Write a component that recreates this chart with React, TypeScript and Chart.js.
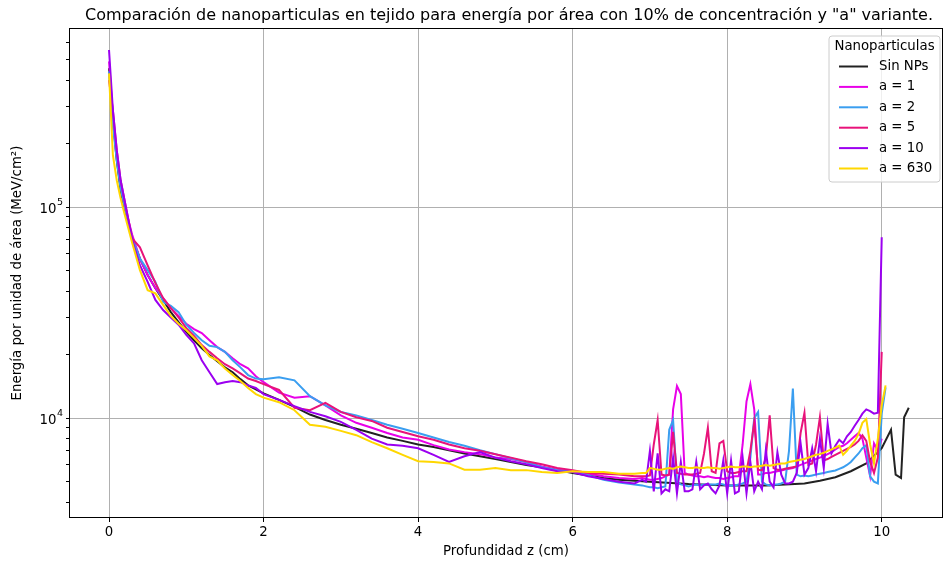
import React, { useEffect, useRef } from 'react';
import { Chart, registerables } from 'chart.js';

Chart.register(...registerables);

// ---------- DATA ----------
const depth = [
  0, 0.05, 0.1, 0.15, 0.2, 0.3, 0.4, 0.5,
  0.6, 0.7, 0.8, 0.9, 1.0, 1.1, 1.2, 1.3,
  1.4, 1.5, 1.6, 1.7, 1.8, 1.9, 2.0, 2.2,
  2.4, 2.6, 2.8, 3.0, 3.2, 3.4, 3.6, 3.8,
  4.0, 4.2, 4.4, 4.6, 4.8, 5.0, 5.2, 5.4,
  5.6, 5.8, 6.0, 6.2, 6.4, 6.6, 6.8,
  6.9, 6.95, 7.0, 7.05, 7.1, 7.15, 7.2, 7.25,
  7.3, 7.35, 7.4, 7.45, 7.5, 7.55, 7.6, 7.65,
  7.7, 7.75, 7.8, 7.85, 7.9, 7.95, 8.0, 8.05,
  8.1, 8.15, 8.2, 8.25, 8.3, 8.35, 8.4, 8.45,
  8.5, 8.55, 8.6, 8.65, 8.7, 8.75, 8.8, 8.85,
  8.9, 8.95, 9.0, 9.05, 9.1, 9.15, 9.2, 9.25,
  9.3, 9.35, 9.4, 9.45, 9.5, 9.55, 9.6, 9.65,
  9.7, 9.75, 9.8, 9.85, 9.9, 9.95, 10.0, 10.05,
];

const depthSinNPs = [
  0, 0.05, 0.1, 0.15, 0.2, 0.3, 0.4, 0.5,
  0.6, 0.7, 0.8, 0.9, 1.0, 1.1, 1.2, 1.3,
  1.4, 1.5, 1.6, 1.7, 1.8, 1.9, 2.0, 2.2,
  2.4, 2.6, 2.8, 3.0, 3.2, 3.4, 3.6, 3.8,
  4.0, 4.2, 4.4, 4.6, 4.8, 5.0, 5.2, 5.4,
  5.6, 5.8, 6.0, 6.2, 6.4, 6.6, 6.8,
  7.0, 7.5, 8.0, 8.5, 9.0, 9.2, 9.4, 9.6,
  9.8, 10.0, 10.12, 10.18, 10.25, 10.29, 10.35,
];

const sinNPs = [
  455000, 258000, 167000, 120000, 98000, 71000, 57000, 47700,
  41300, 36300, 31800, 28500, 25600, 23400, 21400, 19900,
  18600, 17400, 16500, 15300, 14300, 13700, 13100, 12200,
  11300, 10400, 9800, 9300, 8900, 8500, 8100, 7800,
  7500, 7300, 7050, 6800, 6600, 6400, 6200, 6000,
  5850, 5670, 5500, 5350, 5200, 5100, 5050,
  5000, 4870, 4800, 4800, 4900, 5050, 5250, 5600,
  6100, 7200, 8800, 5400, 5200, 10100, 11200,
];

const a1 = [
  490000, 273000, 176000, 127000, 102000, 74000, 57000, 47700,
  41300, 37000, 33200, 30500, 28000, 26400, 25300, 23400,
  21700, 20600, 19200, 18000, 17200, 15800, 14800, 13200,
  12500, 12700, 11500, 10300, 9500, 9000, 8500, 8100,
  7900, 7450, 7100, 6900, 6750, 6500, 6400, 6200,
  5900, 5700, 5600, 5450, 5300, 5200, 5150,
  5200, 5150, 5100, 5100, 5150, 5200, 5300, 5400,
  11000, 14200, 13000, 5500, 5400, 5350, 5300, 5300,
  5250, 5300, 5250, 5200, 5200, 5150, 5200, 5250,
  5300, 5300, 7500, 12000, 14500, 11000, 5400, 5400,
  5500, 5500, 5550, 5600, 5650, 5700, 5750, 5800,
  5900, 6000, 6100, 6200, 6300, 6400, 6500, 6600,
  6750, 6900, 7100, 7300, 7400, 7600, 7900, 8200,
  8500, 8000, 6500, 5300, 7600, 7000, 8000, null,
];

const a2 = [
  440000, 245000, 167000, 123000, 102000, 71000, 57000, 50300,
  44200, 35500, 34000, 31800, 27700, 25300, 23400, 22000,
  21700, 20600, 18800, 17400, 16000, 15400, 15300, 15600,
  15100, 12700, 11500, 10700, 10300, 9800, 9300, 8900,
  8500, 8100, 7700, 7400, 7050, 6750, 6450, 6200,
  5850, 5670, 5550, 5370, 5100, 4950, 4850,
  4800, 4750, 4700, 4700, 4650, 4700, 4750, 8800,
  9800, 5000, 4850, 4800, 4750, 4800, 4850, 4800,
  4850, 4850, 4850, 4850, 4900, 4850, 4800, 4800,
  4800, 4850, 4900, 5000, 6500, 10000, 10700, 5000,
  4850, 4800, 4850, 4850, 4900, 5000, 7000, 13800,
  5400, 5300, 5350, 5300, 5350, 5400, 5450, 5500,
  5550, 5600, 5650, 5750, 5850, 6000, 6200, 6500,
  6800, 7200, 7450, 5300, 5000, 4900, 10500, 14000,
];

const a5 = [
  400000, 288000, 186000, 134000, 108000, 71000, 64500, 53000,
  43700, 37000, 33200, 30000, 26700, 24500, 22200, 20600,
  19200, 18000, 17200, 16300, 15400, 15000, 14500, 13600,
  11200, 10900, 11800, 10700, 10100, 9700, 9000, 8600,
  8200, 7900, 7500, 7200, 7000, 6750, 6500, 6250,
  6050, 5800, 5670, 5500, 5450, 5400, 5300,
  5300, 5300, 5350, 7500, 9800, 5400, 5350, 5400,
  8600, 5500, 5450, 5400, 5400, 5400, 5450, 5500,
  6800, 9000, 5600, 5500, 7600, 7800, 5600, 5500,
  5500, 5550, 5600, 5600, 7000, 9600, 5700, 5650,
  6500, 10300, 5800, 5700, 5700, 5750, 5800, 5850,
  5900, 8500, 10600, 6000, 6100, 7500, 10100, 6300,
  6400, 6550, 6700, 6850, 7000, 7150, 7300, 7500,
  7800, 8300, 7800, 6200, 5500, 6500, 20600, null,
];

const a10 = [
  555000, 288000, 186000, 134000, 108000, 69800, 53000, 44200,
  36300, 32500, 30000, 27700, 24800, 22600, 18800, 16500,
  14500, 14800, 15000, 14800, 14300, 13900, 13000, 12200,
  11400, 10700, 10200, 9600, 8800, 8000, 7500, 7400,
  7200, 6700, 6200, 6600, 6900, 6500, 6250, 6050,
  5800, 5600, 5550, 5300, 5150, 5000, 4900,
  5100, 5000, 7000, 4500, 6800, 4400, 4600, 4500,
  6500, 4400, 6200, 4500, 4500, 4600, 6200, 4600,
  4800, 4900, 4600, 4400, 4800, 6300, 4400, 6300,
  4400, 4500, 6500, 4400, 6200, 4500, 5000, 4600,
  7050, 5000, 4700, 6900, 5400, 4900, 4900, 5000,
  5500, 7600, 5400, 5800, 7200, 5600, 8000, 5800,
  9400, 6800, 7400, 7900, 7600, 8200, 8600, 9200,
  9800, 10500, 11000, 10800, 10500, 10600, 72000, null,
];

const a630 = [
  430000, 176000, 134000, 110000, 93000, 67500, 50300, 40400,
  39000, 34400, 30500, 28000, 26100, 24000, 22000, 19600,
  18800, 17200, 16000, 15000, 13900, 13000, 12500, 11900,
  10900, 9300, 9100, 8700, 8300, 7700, 7200, 6700,
  6250, 6200, 6100, 5700, 5700, 5800, 5670, 5670,
  5550, 5500, 5600, 5550, 5550, 5450, 5450,
  5500, 5500, 5800, 5750, 5700, 5700, 5750, 5800,
  5750, 5850, 5900, 5850, 5800, 5800, 5850, 5800,
  5800, 5850, 5800, 5800, 5750, 5800, 5850, 5900,
  5850, 5850, 5900, 5900, 5850, 5900, 5900, 5950,
  6000, 5950, 6000, 6050, 6100, 6100, 6200, 6250,
  6300, 6350, 6400, 6500, 6600, 6700, 6750, 6850,
  7000, 7100, 7250, 7400, 6700, 7000, 7400, 7800,
  8400, 9500, 9900, 7500, 6100, 8000, 11500, 14300,
];

const seriesLabels = ['Sin NPs', 'a = 1', 'a = 2', 'a = 5', 'a = 10', 'a = 630'];
const seriesColors = ['#222222', '#e800e8', '#3a9ef0', '#e8137a', '#9b00f0', '#ffd700'];
const xTicks = [0, 2, 4, 6, 8, 10];
const yTicks = [
  4000, 5000, 6000, 7000, 8000, 9000,
  10000, 20000, 30000, 40000, 50000, 60000, 70000, 80000, 90000,
  100000, 200000, 300000, 400000, 500000, 600000,
];
const yMajorTicks = [10000, 100000];
const yMajorExponents = ['4', '5'];
const titleText =
  'Comparación de nanoparticulas en tejido para energía por área con 10% de concentración y "a" variante.';
const xTitle = 'Profundidad z (cm)';
const yTitle = 'Energía por unidad de área (MeV/cm²)';
const legendTitle = 'Nanoparticulas';

const FONT = "'DejaVu Sans', sans-serif";
const FS = 13.3;

const framePlugin = {
  id: 'frameTitleLegend',
  afterDraw(chart: any) {
    const { ctx, chartArea } = chart;
    const { left, right, top, bottom } = chartArea;
    ctx.save();
    // frame
    ctx.strokeStyle = '#000';
    ctx.lineWidth = 1;
    ctx.strokeRect(Math.round(left) - 0.5, Math.round(top) - 0.5, Math.round(right - left) + 1, Math.round(bottom - top) + 1);
    // title
    ctx.fillStyle = '#000';
    ctx.font = `16px ${FONT}`;
    ctx.textAlign = 'center';
    ctx.textBaseline = 'middle';
    ctx.fillText(titleText, (left + right) / 2 + 3, 16);
    // y major tick labels with superscript exponent
    const ys = chart.scales.y;
    yMajorTicks.forEach((v, i) => {
      const py = ys.getPixelForValue(v);
      const exp = yMajorExponents[i];
      ctx.font = `9.5px ${FONT}`;
      const ew = ctx.measureText(exp).width;
      const xr = left - 7;
      ctx.textAlign = 'left';
      ctx.textBaseline = 'alphabetic';
      ctx.fillText(exp, xr - ew, py - 2);
      ctx.font = `${FS}px ${FONT}`;
      ctx.textAlign = 'right';
      ctx.fillText('10', xr - ew - 0.5, py + 6);
    });
    // legend
    const bx = right - 113;
    const by = top + 7;
    const bw = 111;
    const bh = 146;
    const r = 3;
    ctx.beginPath();
    ctx.moveTo(bx + r, by);
    ctx.lineTo(bx + bw - r, by);
    ctx.quadraticCurveTo(bx + bw, by, bx + bw, by + r);
    ctx.lineTo(bx + bw, by + bh - r);
    ctx.quadraticCurveTo(bx + bw, by + bh, bx + bw - r, by + bh);
    ctx.lineTo(bx + r, by + bh);
    ctx.quadraticCurveTo(bx, by + bh, bx, by + bh - r);
    ctx.lineTo(bx, by + r);
    ctx.quadraticCurveTo(bx, by, bx + r, by);
    ctx.closePath();
    ctx.fillStyle = 'rgba(255,255,255,0.8)';
    ctx.fill();
    ctx.strokeStyle = '#cccccc';
    ctx.lineWidth = 1;
    ctx.stroke();
    ctx.fillStyle = '#000';
    ctx.font = `${FS}px ${FONT}`;
    ctx.textAlign = 'center';
    ctx.textBaseline = 'middle';
    ctx.fillText(legendTitle, bx + bw / 2, by + 11);
    ctx.textAlign = 'left';
    seriesLabels.forEach((lab, i) => {
      const y = by + 30.5 + i * 20.4;
      ctx.strokeStyle = seriesColors[i];
      ctx.lineWidth = 2;
      ctx.beginPath();
      ctx.moveTo(bx + 10, y);
      ctx.lineTo(bx + 39, y);
      ctx.stroke();
      ctx.fillStyle = '#000';
      ctx.fillText(lab, bx + 50, y);
    });
    ctx.restore();
  },
};

const seriesData = [sinNPs, a1, a2, a5, a10, a630];

export default function App() {
  const ref = useRef<HTMLCanvasElement>(null);
  useEffect(() => {
    document.body.style.margin = '0';
    const canvas = ref.current;
    if (!canvas) return;
    const datasets = seriesData.map((vals, i) => {
      const xs = i === 0 ? depthSinNPs : depth;
      return {
        label: seriesLabels[i],
        data: xs.map((x, j) => ({ x, y: vals[j] })),
        borderColor: seriesColors[i],
        backgroundColor: seriesColors[i],
        borderWidth: 2,
        pointRadius: 0,
        tension: 0,
        fill: false,
        spanGaps: false,
        order: seriesData.length - 1 - i,
      };
    });
    const chart = new Chart(canvas, {
      type: 'line',
      data: { datasets },
      plugins: [framePlugin],
      options: {
        responsive: false,
        animation: false,
        maintainAspectRatio: false,
        layout: { padding: { top: 29, right: 1, left: 0, bottom: 0 } },
        plugins: {
          legend: { display: false },
          title: { display: false },
          tooltip: { enabled: false },
        },
        scales: {
          x: {
            type: 'linear',
            min: -0.505,
            max: 10.78,
            afterBuildTicks: (scale: any) => {
              scale.ticks = xTicks.map((v) => ({ value: v }));
            },
            afterFit: (scale: any) => {
              scale.height = 46;
            },
            border: { display: false },
            grid: { color: '#b0b0b0', lineWidth: 1, tickColor: '#000', tickLength: 5 },
            ticks: {
              color: '#000',
              font: { family: FONT, size: FS },
              padding: 3,
              maxRotation: 0,
              autoSkip: false,
              callback: (v: any) => String(v),
            },
            title: {
              display: true,
              text: xTitle,
              color: '#000',
              font: { family: FONT, size: FS },
              padding: { top: 0, bottom: 3 },
            },
          },
          y: {
            type: 'logarithmic',
            min: 3400,
            max: 698000,
            afterBuildTicks: (scale: any) => {
              scale.ticks = yTicks.map((v) => ({ value: v }));
            },
            afterFit: (scale: any) => {
              scale.width = 70;
            },
            border: { display: false },
            grid: {
              color: (c: any) => (c.tick && yMajorTicks.includes(c.tick.value) ? '#b0b0b0' : 'rgba(0,0,0,0)'),
              tickColor: '#000',
              lineWidth: 1,
              tickLength: 4,
            },
            ticks: {
              color: '#000',
              font: { family: FONT, size: FS },
              padding: 3,
              autoSkip: false,
              callback: () => '',
            },
            title: {
              display: true,
              text: yTitle,
              color: '#000',
              font: { family: FONT, size: FS },
              padding: { top: 10, bottom: 0 },
            },
          },
        },
      },
    });
    return () => chart.destroy();
  }, []);
  return (
    <div style={{ width: 943, height: 563, background: '#fff' }}>
      <canvas ref={ref} width={943} height={563} style={{ display: 'block' }} />
    </div>
  );
}
